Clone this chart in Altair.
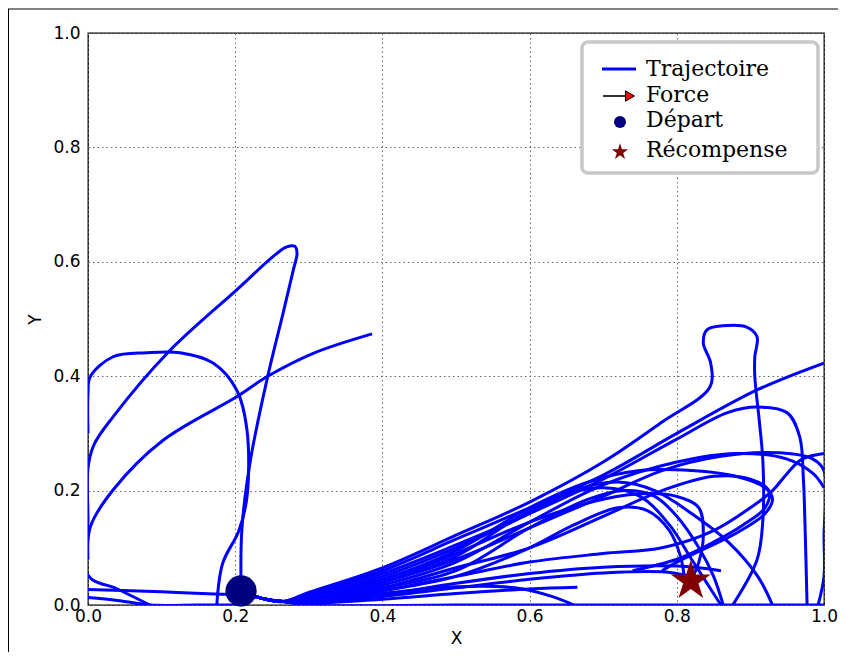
import altair as alt
import pandas as pd

# ---------------- data ----------------
tick_values = [0.0, 0.2, 0.4, 0.6, 0.8, 1.0]
legend_labels = ["Trajectoire", "Force", "Départ", "Récompense"]

depart_x = [0.208]
depart_y = [0.0245]
reward_x = [0.819]
reward_y = [0.042]

start = [(0.208, 0.024), (0.235, 0.012), (0.265, 0.006)]

left_loop = [(0.208, 0.03), (0.209, 0.131), (0.22, 0.248), (0.243, 0.393), (0.265, 0.51),
             (0.279, 0.586), (0.284, 0.615), (0.281, 0.627), (0.27, 0.626), (0.255, 0.613),
             (0.202, 0.551), (0.109, 0.442), (0.034, 0.329), (0.008, 0.28), (0.0, 0.24),
             (0.0, 0.15), (0.0, 0.052), (0.04, 0.028), (0.084, 0.0)]
left_round = [(0.0, 0.3), (0.0, 0.37), (0.003, 0.399), (0.034, 0.434), (0.08, 0.441),
              (0.125, 0.441), (0.17, 0.423), (0.202, 0.376), (0.216, 0.306), (0.216, 0.189),
              (0.205, 0.13), (0.183, 0.073), (0.175, 0.0)]
left_diag = [(0.0, 0.08), (0.003, 0.136), (0.034, 0.201), (0.102, 0.288), (0.202, 0.364),
             (0.243, 0.399), (0.306, 0.44), (0.386, 0.474)]
left_flat = [(0.208, 0.018), (0.18, 0.019), (0.1, 0.023), (0.0, 0.027)]
left_low = [(0.0, 0.013), (0.04, 0.008), (0.085, 0.0), (0.15, 0.0), (0.2, 0.0)]

r_bottle = [(0.30, 0.022), (0.40, 0.065), (0.50, 0.122), (0.60, 0.18), (0.70, 0.25), (0.78, 0.32),
            (0.845, 0.381), (0.846, 0.423), (0.836, 0.458), (0.841, 0.481), (0.862, 0.488),
            (0.895, 0.486), (0.909, 0.469), (0.906, 0.434), (0.906, 0.399), (0.912, 0.323),
            (0.917, 0.25), (0.917, 0.15), (0.909, 0.079), (0.876, 0.0)]
r_straight = [(0.30, 0.02), (0.40, 0.06), (0.50, 0.115), (0.60, 0.17), (0.70, 0.227), (0.80, 0.30),
              (0.909, 0.376), (1.0, 0.423)]
r_arch = [(0.30, 0.018), (0.40, 0.055), (0.50, 0.105), (0.60, 0.16), (0.70, 0.22), (0.80, 0.29),
          (0.868, 0.336), (0.909, 0.346), (0.95, 0.336), (0.967, 0.294), (0.972, 0.22),
          (0.974, 0.149), (0.977, 0.0)]
r_edge = [(0.30, 0.012), (0.40, 0.04), (0.50, 0.08), (0.60, 0.135), (0.70, 0.19), (0.78, 0.235),
          (0.86, 0.26), (0.94, 0.266), (0.985, 0.255), (1.0, 0.235), (1.0, 0.12), (1.0, 0.05),
          (0.992, 0.0)]
r_exit = [(0.30, 0.01), (0.40, 0.035), (0.50, 0.075), (0.60, 0.145), (0.70, 0.21), (0.80, 0.25),
          (0.88, 0.265), (0.95, 0.255), (0.985, 0.23), (1.0, 0.205)]
r_oval1 = [(0.30, 0.015), (0.40, 0.045), (0.50, 0.095), (0.60, 0.17), (0.68, 0.215), (0.75, 0.235),
           (0.82, 0.235), (0.88, 0.225), (0.92, 0.205), (0.93, 0.185), (0.92, 0.16), (0.88, 0.125),
           (0.832, 0.095), (0.80, 0.075), (0.78, 0.06)]
r_oval2 = [(0.30, 0.01), (0.40, 0.03), (0.50, 0.065), (0.60, 0.10), (0.70, 0.155), (0.78, 0.2),
           (0.85, 0.225), (0.90, 0.22), (0.925, 0.2), (0.92, 0.17), (0.89, 0.14), (0.85, 0.11),
           (0.80, 0.08), (0.74, 0.06)]
r_hook = [(0.30, 0.012), (0.40, 0.04), (0.50, 0.09), (0.60, 0.145), (0.70, 0.185), (0.76, 0.195),
          (0.80, 0.19), (0.83, 0.17), (0.836, 0.12), (0.83, 0.075), (0.822, 0.05)]
r_hook2 = [(0.30, 0.008), (0.40, 0.025), (0.50, 0.05), (0.60, 0.10), (0.66, 0.14), (0.72, 0.17),
           (0.76, 0.165), (0.79, 0.13), (0.805, 0.085), (0.81, 0.05)]
r_down1 = [(0.30, 0.01), (0.40, 0.03), (0.50, 0.06), (0.60, 0.135), (0.68, 0.185), (0.73, 0.2),
           (0.77, 0.19), (0.80, 0.155), (0.83, 0.1), (0.85, 0.05), (0.863, 0.0)]
r_down2 = [(0.30, 0.015), (0.40, 0.05), (0.50, 0.1), (0.60, 0.16), (0.66, 0.2), (0.72, 0.215),
           (0.77, 0.2), (0.82, 0.16), (0.87, 0.11), (0.91, 0.05), (0.93, 0.0)]
r_down3 = [(0.30, 0.012), (0.40, 0.04), (0.50, 0.085), (0.58, 0.15), (0.64, 0.19), (0.70, 0.205),
           (0.75, 0.19), (0.79, 0.14), (0.82, 0.08), (0.84, 0.04), (0.86, 0.0)]
r_flat1 = [(0.30, 0.004), (0.40, 0.015), (0.50, 0.03), (0.60, 0.045), (0.70, 0.056), (0.78, 0.058),
           (0.82, 0.05)]
r_flat2 = [(0.30, 0.004), (0.40, 0.018), (0.50, 0.038), (0.60, 0.055), (0.70, 0.066), (0.80, 0.068),
           (0.86, 0.06)]
r_short = [(0.30, 0.003), (0.40, 0.01), (0.50, 0.02), (0.60, 0.028), (0.665, 0.031)]
r_floor = [(0.30, 0.0), (0.50, 0.0), (0.67, 0.0), (0.80, 0.0), (1.0, 0.0)]
r_land = [(0.30, 0.006), (0.40, 0.02), (0.50, 0.032), (0.58, 0.03), (0.63, 0.015), (0.66, 0.0)]
r_rise = [(0.30, 0.006), (0.40, 0.025), (0.50, 0.05), (0.60, 0.075), (0.70, 0.09), (0.78, 0.1),
          (0.85, 0.13), (0.90, 0.17), (0.93, 0.2), (0.95, 0.23), (0.97, 0.255), (1.0, 0.265)]

trajectories = {
    "left_loop": left_loop, "left_round": left_round, "left_diag": left_diag,
    "left_flat": left_flat, "left_low": left_low,
    "r_bottle": start + r_bottle, "r_straight": start + r_straight, "r_arch": start + r_arch,
    "r_edge": start + r_edge, "r_exit": start + r_exit, "r_oval1": start + r_oval1,
    "r_oval2": start + r_oval2, "r_hook": start + r_hook, "r_hook2": start + r_hook2,
    "r_down1": start + r_down1, "r_down2": start + r_down2, "r_down3": start + r_down3,
    "r_flat1": start + r_flat1, "r_flat2": start + r_flat2, "r_short": start + r_short,
    "r_floor": start + r_floor, "r_land": start + r_land, "r_rise": start + r_rise,
}

rows = []
for name, pts in trajectories.items():
    for i, (xv, yv) in enumerate(pts):
        rows.append({"traj": name, "i": i, "x": xv, "y": yv})
df = pd.DataFrame(rows)

STAR = ("M0,-1L0.2245,-0.309L0.9511,-0.309L0.3633,0.118L0.5878,0.809L0,0.382"
        "L-0.5878,0.809L-0.3633,0.118L-0.9511,-0.309L-0.2245,-0.309Z")

xs = alt.Scale(domain=[0, 1], nice=False, zero=False)
ys = alt.Scale(domain=[0, 1], nice=False, zero=False)

x_axis = alt.Axis(values=tick_values, format=".1f", title="X", grid=True, ticks=False,
                  domain=False, labelPadding=3, titlePadding=6, labelFlush=False)
y_axis = alt.Axis(values=tick_values, format=".1f", title="Y", grid=True, ticks=False,
                  domain=False, labelPadding=8, titlePadding=8, labelFlush=False)

lines = alt.Chart(df).mark_line(color="#0000ff", strokeWidth=3, interpolate="catmull-rom",
                                clip=True).encode(
    x=alt.X("x:Q", scale=xs, axis=x_axis),
    y=alt.Y("y:Q", scale=ys, axis=y_axis),
    detail="traj:N",
    order="i:Q",
)

depart = alt.Chart(pd.DataFrame({"x": depart_x, "y": depart_y})).mark_point(
    shape="circle", filled=True, size=980, color="#000080", opacity=1
).encode(x=alt.X("x:Q", scale=xs), y=alt.Y("y:Q", scale=ys))

reward = alt.Chart(pd.DataFrame({"x": reward_x, "y": reward_y})).mark_point(
    shape=STAR, filled=True, size=1760, color="#800000", opacity=1
).encode(x=alt.X("x:Q", scale=xs), y=alt.Y("y:Q", scale=ys))

one = pd.DataFrame({"a": [0]})

legend_box = alt.Chart(one).mark_rect(
    fill="white", stroke="#c8c8c8", strokeWidth=3.5, cornerRadius=6
).encode(x=alt.value(494), x2=alt.value(730), y=alt.value(9), y2=alt.value(140))

leg_line = alt.Chart(one).mark_rule(color="#0000ff", strokeWidth=2.8).encode(
    x=alt.value(514), x2=alt.value(548), y=alt.value(36))
leg_arrow_line = alt.Chart(one).mark_rule(color="black", strokeWidth=1.6).encode(
    x=alt.value(515), x2=alt.value(538), y=alt.value(63))
leg_arrow_head = alt.Chart(one).mark_point(
    shape="triangle-right", filled=True, fill="#ff0000", stroke="black", strokeWidth=1,
    size=110, opacity=1).encode(x=alt.value(542), y=alt.value(63))
leg_circle = alt.Chart(one).mark_point(
    shape="circle", filled=True, size=145, color="#000080", opacity=1
).encode(x=alt.value(532), y=alt.value(89))
leg_star = alt.Chart(one).mark_point(
    shape=STAR, filled=True, size=300, color="#800000", opacity=1
).encode(x=alt.value(532), y=alt.value(119))

text_layers = []
for lab, yv in zip(legend_labels, [43, 69, 94, 124]):
    text_layers.append(
        alt.Chart(one).mark_text(
            text=lab, align="left", baseline="alphabetic", font="DejaVu Serif",
            fontSize=22, color="black"
        ).encode(x=alt.value(558), y=alt.value(yv))
    )

frame_top = alt.Chart(one).mark_rule(color="black", strokeWidth=1).encode(
    x=alt.value(-80), x2=alt.value(760), y=alt.value(-24))
frame_left = alt.Chart(one).mark_rule(color="black", strokeWidth=1).encode(
    x=alt.value(-79.5), y=alt.value(-24), y2=alt.value(640))

chart = alt.layer(
    lines, depart, reward, legend_box, leg_line, leg_arrow_line, leg_arrow_head,
    leg_circle, leg_star, *text_layers, frame_top, frame_left
).properties(
    width=736, height=572,
    autosize=alt.AutoSizeParams(type="none"),
    padding={"left": 80, "top": 25, "right": 14, "bottom": 47},
    background="white",
).configure_view(
    stroke="black", strokeWidth=1.3
).configure_axis(
    labelFont="DejaVu Sans", labelFontSize=17, labelColor="black",
    titleFont="DejaVu Sans", titleFontSize=17, titleFontWeight="normal", titleColor="black",
    gridColor="#666666", gridDash=[1.5, 3], gridWidth=1, gridOpacity=1,
)

chart.save("out.html", embed_options={"renderer": "svg", "actions": False})
